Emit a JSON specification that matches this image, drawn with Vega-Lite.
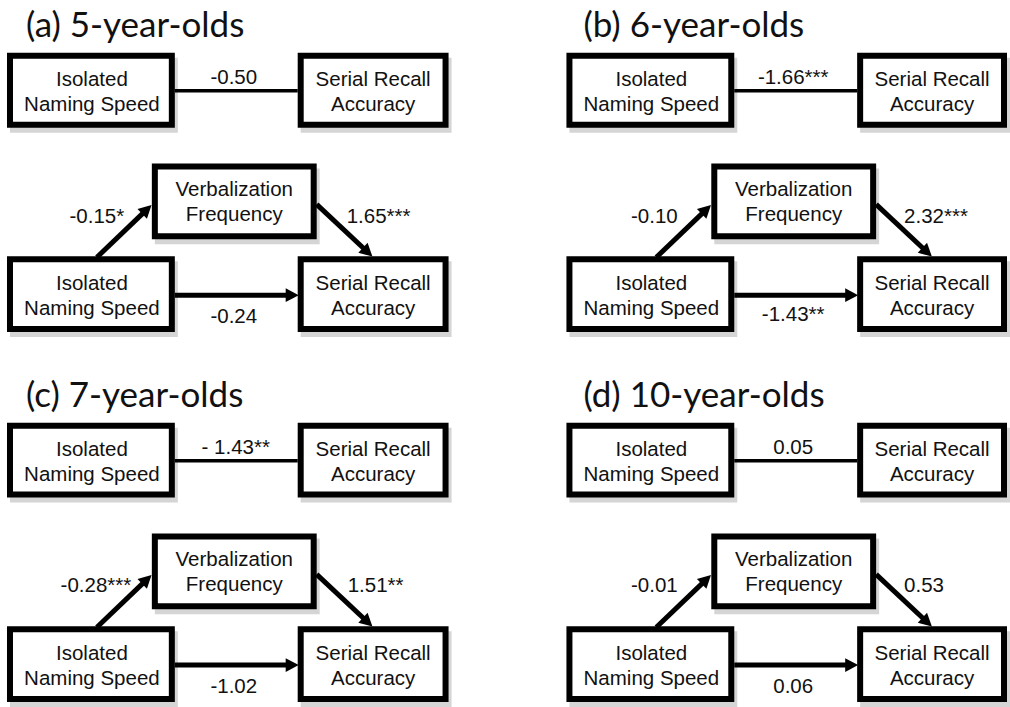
{
  "$schema": "https://vega.github.io/schema/vega-lite/v6.json",
  "autosize": {"type": "fit", "contains": "padding"},
  "width": 1010,
  "height": 707,
  "padding": 0,
  "background": "white",
  "config": {"view": {"stroke": null}},
  "datasets": {
    "boxes": [
      {"panel": "a", "node": "Isolated Naming Speed (total)", "label": "Isolated\nNaming Speed", "x1": 10, "x2": 172, "y1": 56, "y2": 125, "cx": 92, "cy": 91},
      {"panel": "a", "node": "Serial Recall Accuracy (total)", "label": "Serial Recall\nAccuracy", "x1": 301, "x2": 446, "y1": 56, "y2": 125, "cx": 373.5, "cy": 91},
      {"panel": "a", "node": "Verbalization Frequency", "label": "Verbalization\nFrequency", "x1": 155, "x2": 314, "y1": 167, "y2": 237, "cx": 234.5, "cy": 202},
      {"panel": "a", "node": "Isolated Naming Speed", "label": "Isolated\nNaming Speed", "x1": 10, "x2": 172, "y1": 260, "y2": 330, "cx": 92, "cy": 296},
      {"panel": "a", "node": "Serial Recall Accuracy", "label": "Serial Recall\nAccuracy", "x1": 301, "x2": 446, "y1": 260, "y2": 330, "cx": 373.5, "cy": 296},

      {"panel": "b", "node": "Isolated Naming Speed (total)", "label": "Isolated\nNaming Speed", "x1": 570, "x2": 732, "y1": 56, "y2": 125, "cx": 652, "cy": 91},
      {"panel": "b", "node": "Serial Recall Accuracy (total)", "label": "Serial Recall\nAccuracy", "x1": 861, "x2": 1005, "y1": 56, "y2": 125, "cx": 933, "cy": 91},
      {"panel": "b", "node": "Verbalization Frequency", "label": "Verbalization\nFrequency", "x1": 715, "x2": 874, "y1": 167, "y2": 237, "cx": 794.5, "cy": 202},
      {"panel": "b", "node": "Isolated Naming Speed", "label": "Isolated\nNaming Speed", "x1": 570, "x2": 732, "y1": 260, "y2": 330, "cx": 652, "cy": 296},
      {"panel": "b", "node": "Serial Recall Accuracy", "label": "Serial Recall\nAccuracy", "x1": 861, "x2": 1005, "y1": 260, "y2": 330, "cx": 933, "cy": 296},

      {"panel": "c", "node": "Isolated Naming Speed (total)", "label": "Isolated\nNaming Speed", "x1": 10, "x2": 172, "y1": 427, "y2": 496, "cx": 92, "cy": 462},
      {"panel": "c", "node": "Serial Recall Accuracy (total)", "label": "Serial Recall\nAccuracy", "x1": 301, "x2": 446, "y1": 427, "y2": 496, "cx": 373.5, "cy": 462},
      {"panel": "c", "node": "Verbalization Frequency", "label": "Verbalization\nFrequency", "x1": 155, "x2": 314, "y1": 538, "y2": 608, "cx": 234.5, "cy": 573},
      {"panel": "c", "node": "Isolated Naming Speed", "label": "Isolated\nNaming Speed", "x1": 10, "x2": 172, "y1": 631, "y2": 701, "cx": 92, "cy": 667},
      {"panel": "c", "node": "Serial Recall Accuracy", "label": "Serial Recall\nAccuracy", "x1": 301, "x2": 446, "y1": 631, "y2": 701, "cx": 373.5, "cy": 667},

      {"panel": "d", "node": "Isolated Naming Speed (total)", "label": "Isolated\nNaming Speed", "x1": 570, "x2": 732, "y1": 427, "y2": 496, "cx": 652, "cy": 462},
      {"panel": "d", "node": "Serial Recall Accuracy (total)", "label": "Serial Recall\nAccuracy", "x1": 861, "x2": 1005, "y1": 427, "y2": 496, "cx": 933, "cy": 462},
      {"panel": "d", "node": "Verbalization Frequency", "label": "Verbalization\nFrequency", "x1": 715, "x2": 874, "y1": 538, "y2": 608, "cx": 794.5, "cy": 573},
      {"panel": "d", "node": "Isolated Naming Speed", "label": "Isolated\nNaming Speed", "x1": 570, "x2": 732, "y1": 631, "y2": 701, "cx": 652, "cy": 667},
      {"panel": "d", "node": "Serial Recall Accuracy", "label": "Serial Recall\nAccuracy", "x1": 861, "x2": 1005, "y1": 631, "y2": 701, "cx": 933, "cy": 667}
    ],
    "edges": [
      {"panel": "a", "kind": "total", "x1": 175, "y1": 91, "x2": 298, "y2": 91},
      {"panel": "a", "kind": "direct", "x1": 175, "y1": 296, "x2": 289, "y2": 296},
      {"panel": "a", "kind": "a-path", "x1": 97, "y1": 258, "x2": 144.5, "y2": 212.5},
      {"panel": "a", "kind": "b-path", "x1": 317, "y1": 205, "x2": 365.5, "y2": 250.5},

      {"panel": "b", "kind": "total", "x1": 735, "y1": 91, "x2": 858, "y2": 91},
      {"panel": "b", "kind": "direct", "x1": 735, "y1": 296, "x2": 849, "y2": 296},
      {"panel": "b", "kind": "a-path", "x1": 657, "y1": 258, "x2": 704.5, "y2": 212.5},
      {"panel": "b", "kind": "b-path", "x1": 877, "y1": 205, "x2": 925.5, "y2": 250.5},

      {"panel": "c", "kind": "total", "x1": 175, "y1": 462, "x2": 298, "y2": 462},
      {"panel": "c", "kind": "direct", "x1": 175, "y1": 667, "x2": 289, "y2": 667},
      {"panel": "c", "kind": "a-path", "x1": 97, "y1": 629, "x2": 144.5, "y2": 583.5},
      {"panel": "c", "kind": "b-path", "x1": 317, "y1": 576, "x2": 365.5, "y2": 621.5},

      {"panel": "d", "kind": "total", "x1": 735, "y1": 462, "x2": 858, "y2": 462},
      {"panel": "d", "kind": "direct", "x1": 735, "y1": 667, "x2": 849, "y2": 667},
      {"panel": "d", "kind": "a-path", "x1": 657, "y1": 629, "x2": 704.5, "y2": 583.5},
      {"panel": "d", "kind": "b-path", "x1": 877, "y1": 576, "x2": 925.5, "y2": 621.5}
    ],
    "labels": [
      {"panel": "a", "kind": "total", "coef": "-0.50", "x": 234, "y": 78},
      {"panel": "a", "kind": "direct", "coef": "-0.24", "x": 234, "y": 318},
      {"panel": "a", "kind": "a-path", "coef": "-0.15*", "x": 97, "y": 218},
      {"panel": "a", "kind": "b-path", "coef": "1.65***", "x": 347, "y": 218},

      {"panel": "b", "kind": "total", "coef": "-1.66***", "x": 794, "y": 78},
      {"panel": "b", "kind": "direct", "coef": "-1.43**", "x": 794, "y": 316},
      {"panel": "b", "kind": "a-path", "coef": "-0.10", "x": 655, "y": 218},
      {"panel": "b", "kind": "b-path", "coef": "2.32***", "x": 905, "y": 218},

      {"panel": "c", "kind": "total", "coef": "- 1.43**", "x": 236, "y": 449},
      {"panel": "c", "kind": "direct", "coef": "-1.02", "x": 234, "y": 689},
      {"panel": "c", "kind": "a-path", "coef": "-0.28***", "x": 96, "y": 588},
      {"panel": "c", "kind": "b-path", "coef": "1.51**", "x": 348, "y": 588},

      {"panel": "d", "kind": "total", "coef": "0.05", "x": 794, "y": 449},
      {"panel": "d", "kind": "direct", "coef": "0.06", "x": 794, "y": 689},
      {"panel": "d", "kind": "a-path", "coef": "-0.01", "x": 655, "y": 588},
      {"panel": "d", "kind": "b-path", "coef": "0.53", "x": 905, "y": 588}
    ],
    "titles": [
      {"panel": "a", "title": "(a) 5-year-olds", "x": 26, "y": 37},
      {"panel": "b", "title": "(b) 6-year-olds", "x": 584, "y": 37},
      {"panel": "c", "title": "(c) 7-year-olds", "x": 26, "y": 408},
      {"panel": "d", "title": "(d) 10-year-olds", "x": 584, "y": 408}
    ]
  },
  "layer": [
    {
      "data": {"name": "boxes"},
      "mark": {"type": "rect", "fill": "#777777", "stroke": "#777777", "strokeWidth": 6, "opacity": 0.3, "xOffset": 3, "yOffset": 5, "x2Offset": 3, "y2Offset": 5},
      "encoding": {
        "x": {"field": "x1", "type": "quantitative", "scale": {"domain": [0, 1010], "nice": false, "zero": false}, "axis": null},
        "x2": {"field": "x2"},
        "y": {"field": "y1", "type": "quantitative", "scale": {"domain": [0, 707], "nice": false, "zero": false, "reverse": true}, "axis": null},
        "y2": {"field": "y2"}
      }
    },
    {
      "data": {"name": "edges"},
      "mark": {"type": "rule", "color": "black", "strokeWidth": 3.5},
      "transform": [{"filter": "datum.kind === 'total'"}],
      "encoding": {
        "x": {"field": "x1", "type": "quantitative", "scale": {"domain": [0, 1010], "nice": false, "zero": false}, "axis": null},
        "x2": {"field": "x2"},
        "y": {"field": "y1", "type": "quantitative", "scale": {"domain": [0, 707], "nice": false, "zero": false, "reverse": true}, "axis": null},
        "y2": {"field": "y2"}
      }
    },
    {
      "data": {"name": "edges"},
      "mark": {"type": "rule", "color": "black", "strokeWidth": 5},
      "transform": [{"filter": "datum.kind !== 'total'"}],
      "encoding": {
        "x": {"field": "x1", "type": "quantitative", "scale": {"domain": [0, 1010], "nice": false, "zero": false}, "axis": null},
        "x2": {"field": "x2"},
        "y": {"field": "y1", "type": "quantitative", "scale": {"domain": [0, 707], "nice": false, "zero": false, "reverse": true}, "axis": null},
        "y2": {"field": "y2"}
      }
    },
    {
      "data": {"name": "edges"},
      "mark": {"type": "point", "shape": "M1.0,0 L-0.3,-0.68 L-0.3,0.68 Z", "size": 400, "filled": true, "color": "black", "opacity": 1, "angle": 0},
      "transform": [{"filter": "datum.kind === 'direct'"}],
      "encoding": {
        "x": {"field": "x2", "type": "quantitative", "scale": {"domain": [0, 1010], "nice": false, "zero": false}, "axis": null},
        "y": {"field": "y2", "type": "quantitative", "scale": {"domain": [0, 707], "nice": false, "zero": false, "reverse": true}, "axis": null}
      }
    },
    {
      "data": {"name": "edges"},
      "mark": {"type": "point", "shape": "M1.0,0 L-0.3,-0.68 L-0.3,0.68 Z", "size": 400, "filled": true, "color": "black", "opacity": 1, "angle": 316},
      "transform": [{"filter": "datum.kind === 'a-path'"}],
      "encoding": {
        "x": {"field": "x2", "type": "quantitative", "scale": {"domain": [0, 1010], "nice": false, "zero": false}, "axis": null},
        "y": {"field": "y2", "type": "quantitative", "scale": {"domain": [0, 707], "nice": false, "zero": false, "reverse": true}, "axis": null}
      }
    },
    {
      "data": {"name": "edges"},
      "mark": {"type": "point", "shape": "M1.0,0 L-0.3,-0.68 L-0.3,0.68 Z", "size": 400, "filled": true, "color": "black", "opacity": 1, "angle": 43},
      "transform": [{"filter": "datum.kind === 'b-path'"}],
      "encoding": {
        "x": {"field": "x2", "type": "quantitative", "scale": {"domain": [0, 1010], "nice": false, "zero": false}, "axis": null},
        "y": {"field": "y2", "type": "quantitative", "scale": {"domain": [0, 707], "nice": false, "zero": false, "reverse": true}, "axis": null}
      }
    },
    {
      "data": {"name": "boxes"},
      "mark": {"type": "rect", "fill": "white", "stroke": "black", "strokeWidth": 6},
      "encoding": {
        "x": {"field": "x1", "type": "quantitative", "scale": {"domain": [0, 1010], "nice": false, "zero": false}, "axis": null},
        "x2": {"field": "x2"},
        "y": {"field": "y1", "type": "quantitative", "scale": {"domain": [0, 707], "nice": false, "zero": false, "reverse": true}, "axis": null},
        "y2": {"field": "y2"}
      }
    },
    {
      "data": {"name": "boxes"},
      "mark": {"type": "text", "font": "Liberation Sans, Arial, sans-serif", "fontSize": 20.5, "lineHeight": 25, "lineBreak": "\n", "align": "center", "baseline": "middle", "dy": -11, "color": "#111111"},
      "encoding": {
        "x": {"field": "cx", "type": "quantitative", "scale": {"domain": [0, 1010], "nice": false, "zero": false}, "axis": null},
        "y": {"field": "cy", "type": "quantitative", "scale": {"domain": [0, 707], "nice": false, "zero": false, "reverse": true}, "axis": null},
        "text": {"field": "label"}
      }
    },
    {
      "data": {"name": "labels"},
      "mark": {"type": "text", "font": "Liberation Sans, Arial, sans-serif", "fontSize": 20.5, "align": "center", "baseline": "middle", "color": "#111111"},
      "transform": [{"filter": "datum.kind !== 'b-path'"}],
      "encoding": {
        "x": {"field": "x", "type": "quantitative", "scale": {"domain": [0, 1010], "nice": false, "zero": false}, "axis": null},
        "y": {"field": "y", "type": "quantitative", "scale": {"domain": [0, 707], "nice": false, "zero": false, "reverse": true}, "axis": null},
        "text": {"field": "coef"}
      }
    },
    {
      "data": {"name": "labels"},
      "mark": {"type": "text", "font": "Liberation Sans, Arial, sans-serif", "fontSize": 20.5, "align": "left", "baseline": "middle", "color": "#111111"},
      "transform": [{"filter": "datum.kind === 'b-path'"}],
      "encoding": {
        "x": {"field": "x", "type": "quantitative", "scale": {"domain": [0, 1010], "nice": false, "zero": false}, "axis": null},
        "y": {"field": "y", "type": "quantitative", "scale": {"domain": [0, 707], "nice": false, "zero": false, "reverse": true}, "axis": null},
        "text": {"field": "coef"}
      }
    },
    {
      "data": {"name": "titles"},
      "mark": {"type": "text", "font": "Lato", "fontSize": 35, "align": "left", "baseline": "alphabetic", "color": "#111111"},
      "encoding": {
        "x": {"field": "x", "type": "quantitative", "scale": {"domain": [0, 1010], "nice": false, "zero": false}, "axis": null},
        "y": {"field": "y", "type": "quantitative", "scale": {"domain": [0, 707], "nice": false, "zero": false, "reverse": true}, "axis": null},
        "text": {"field": "title"}
      }
    }
  ]
}
